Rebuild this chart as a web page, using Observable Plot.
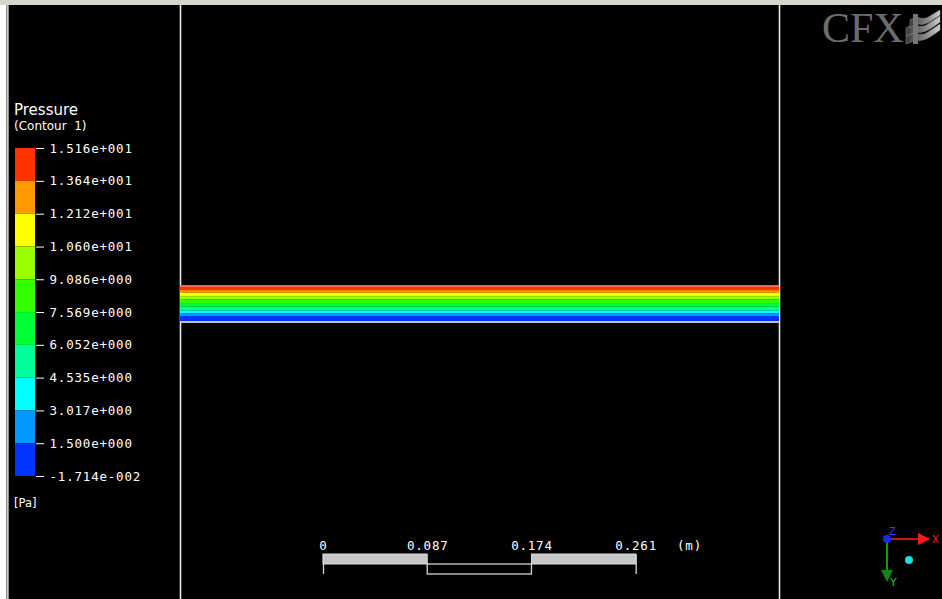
<!DOCTYPE html>
<html>
<head>
<meta charset="utf-8">
<script src="https://cdn.jsdelivr.net/npm/d3@7"></script>
<script src="https://cdn.jsdelivr.net/npm/@observablehq/plot@0.6"></script>
<style>
  html, body { margin: 0; padding: 0; background: #000; }
  #root { position: relative; width: 942px; height: 599px; background: #000; overflow: hidden; }
  #root > svg, #root > .layer { position: absolute; left: 0; top: 0; }
  .mono text { letter-spacing: 0.8px; }
</style>
</head>
<body>
<div id="root">
  <div id="main" class="layer"></div>
  <div id="legend" class="layer mono"></div>
  <svg id="deco" width="942" height="599" style="position:absolute;left:0;top:0">
    <defs>
      <linearGradient id="wave" x1="0" y1="0" x2="1" y2="0">
        <stop offset="0" stop-color="#3a3a3a"/>
        <stop offset="0.6" stop-color="#8a8a8a"/>
        <stop offset="1" stop-color="#d0d0d0"/>
      </linearGradient>
    </defs>
    <!-- window frame -->
    <rect x="0" y="0" width="6" height="599" fill="#ffffff"/>
    <rect x="6" y="0" width="3" height="599" fill="#8c8c8c"/>
    <rect x="7" y="0" width="1" height="599" fill="#c8c8c8"/>
    <rect x="0" y="0" width="942" height="5" fill="#d8d5cf"/>
    <!-- legend texts -->
    <text x="14" y="115" fill="#ffffff" font-family="DejaVu Sans" font-size="15">Pressure</text>
    <text x="14" y="130" fill="#ffffff" font-family="DejaVu Sans" font-size="12" xml:space="preserve">(Contour  1)</text>
    <text x="14" y="507" fill="#ffffff" font-family="DejaVu Sans" font-size="11.5">[Pa]</text>
    <!-- CFX logo -->
    <text x="822" y="42" fill="#6c6c6c" font-family="Liberation Serif" font-size="42">CFX</text>
    <g fill="url(#wave)" stroke="#9a9a9a" stroke-width="0.5">
      <path d="M906,36 C914,30 920,38 928,32 L940,24 L940,30 C932,36 924,42 916,40 L906,44 Z"/>
      <path d="M906,28 C914,22 920,30 928,24 L940,16 L940,22 C932,28 924,34 916,32 L906,36 Z"/>
      <path d="M910,20 C918,14 922,22 930,16 L940,10 L940,15 C932,20 926,26 918,24 L910,28 Z"/>
    </g>
    <rect x="913" y="14" width="5" height="30" fill="#777"/>
    <!-- axis triad -->
    <line x1="886" y1="539" x2="920" y2="539" stroke="#d01010" stroke-width="2"/>
    <path d="M918,533 L930,539 L918,545 Z" fill="#ff1a1a"/>
    <text x="932" y="543" fill="#ff2020" font-family="DejaVu Sans" font-size="10">X</text>
    <line x1="887" y1="539" x2="887" y2="572" stroke="#109a10" stroke-width="2"/>
    <path d="M881,570 L887,582 L893,570 Z" fill="#0c8a0c"/>
    <text x="890" y="586" fill="#20c020" font-family="DejaVu Sans" font-size="11">Y</text>
    <circle cx="887" cy="539" r="4" fill="#1a2aff"/>
    <text x="889" y="535" fill="#3040ff" font-family="DejaVu Sans" font-size="10">Z</text>
    <circle cx="909" cy="560" r="4" fill="#19e0e0"/>
  </svg>
</div>
<script>
// ---------------- data ----------------
const pipeLength = 0.5;      // m
const pipeDiameter = 0.03;   // m
// contour levels (Pa), top to bottom of the legend
const levels = [15.16, 13.64, 12.12, 10.60, 9.086, 7.569, 6.052, 4.535, 3.017, 1.500, -0.01714];
const binColors = ["#ff3300", "#ff9900", "#ffff00", "#99ff00", "#33ff00", "#00ff33", "#00ff99", "#00ffff", "#0099ff", "#0033ff"];
// height above the pipe bottom (m) at which each contour level lies
const contourHeights = [0.0300, 0.0262, 0.0240, 0.0212, 0.0185, 0.0154, 0.0123, 0.0090, 0.0068, 0.0046, 0.0000];
// scale bar
const scaleTicks = [0, 0.087, 0.174, 0.261];
const scaleLabels = ["0", "0.087", "0.174", "0.261"];
const scaleUnit = "(m)";

// ---------------- layout ----------------
const W = 942, H = 599;
const pipeLeftPx = 180, pipeRightPx = 779, pipeBottomPx = 321.5;
const k = (pipeRightPx - pipeLeftPx) / pipeLength; // px per metre
const px2x = px => (px - pipeLeftPx) / k;
const px2y = py => (pipeBottomPx - py) / k;

const colorScale = {
  type: "threshold",
  domain: levels.slice(1, -1).reverse(),
  range: binColors.slice().reverse()
};

const layers = d3.range(levels.length - 1).map(i => ({
  top: contourHeights[i],
  bot: contourHeights[i + 1],
  p: (levels[i] + levels[i + 1]) / 2
}));

const scaleOrigin = px2x(323);
const segs = d3.range(scaleTicks.length - 1).map(i => ({
  a: scaleOrigin + scaleTicks[i],
  b: scaleOrigin + scaleTicks[i + 1],
  filled: i % 2 === 0
}));
const barTop = px2y(554), barMid = px2y(564), barBot = px2y(574), labelY = px2y(545);

const main = Plot.plot({
  width: W, height: H, margin: 0,
  style: {background: "transparent", color: "white", overflow: "visible"},
  x: {domain: [px2x(0), px2x(W)], range: [0, W], axis: null},
  y: {domain: [px2y(H), px2y(0)], range: [H, 0], axis: null},
  color: colorScale,
  marks: [
    Plot.ruleX([0, pipeLength], {stroke: "#e6e6e6", strokeWidth: 1.6}),
    Plot.rect(layers, {x1: 0, x2: pipeLength, y1: "bot", y2: "top", fill: "p"}),
    Plot.ruleY([pipeDiameter], {x1: 0, x2: pipeLength, stroke: "#f4866a", strokeWidth: 1.5}),
    Plot.ruleY([0], {x1: 0, x2: pipeLength, stroke: "#c4c4c4", strokeWidth: 2}),
    // scale bar
    Plot.rect(segs.filter(d => d.filled), {x1: "a", x2: "b", y1: barMid, y2: barTop, fill: "#c6c6c6", stroke: "#dcdcdc", strokeWidth: 1}),
    Plot.rect(segs.filter(d => !d.filled), {x1: "a", x2: "b", y1: barBot, y2: barMid, fill: "none", stroke: "#d4d4d4", strokeWidth: 1.3}),
    Plot.ruleX([scaleTicks[0], scaleTicks[scaleTicks.length - 1]], {x: d => scaleOrigin + d, y1: barBot, y2: barTop, stroke: "#d4d4d4", strokeWidth: 1.3}),
    Plot.text(scaleTicks, {x: d => scaleOrigin + d, y: labelY, text: (d, i) => scaleLabels[i], fill: "white", fontFamily: "DejaVu Sans Mono", fontSize: 12.5, textAnchor: "middle"}),
    Plot.text([scaleUnit], {x: px2x(689), y: labelY, text: d => d, fill: "white", fontFamily: "DejaVu Sans Mono", fontSize: 12.5, textAnchor: "middle"})
  ]
});
main.classList.add("mono");
document.getElementById("main").append(main);

function cfx(v) {
  const e = Math.floor(Math.log10(Math.abs(v)));
  const m = v / Math.pow(10, e);
  return m.toFixed(3) + "e" + (e < 0 ? "-" : "+") + String(Math.abs(e)).padStart(3, "0");
}

const bins = d3.range(levels.length - 1).map(i => ({hi: levels[i], lo: levels[i + 1], p: (levels[i] + levels[i + 1]) / 2}));

const legend = Plot.plot({
  width: 180, height: H,
  marginLeft: 15, marginRight: 145, marginTop: 0, marginBottom: 0,
  style: {background: "transparent", color: "white", overflow: "visible"},
  y: {domain: [levels[levels.length - 1], levels[0]], range: [476, 148], axis: null},
  color: colorScale,
  marks: [
    Plot.rect(bins, {y1: "lo", y2: "hi", fill: "p"}),
    Plot.axisY(levels, {anchor: "right", tickSize: 8, tickPadding: 6, tickFormat: cfx, fontSize: 12.5, fontFamily: "DejaVu Sans Mono", stroke: "white", fill: "white"})
  ]
});
document.getElementById("legend").append(legend);
</script>
</body>
</html>
